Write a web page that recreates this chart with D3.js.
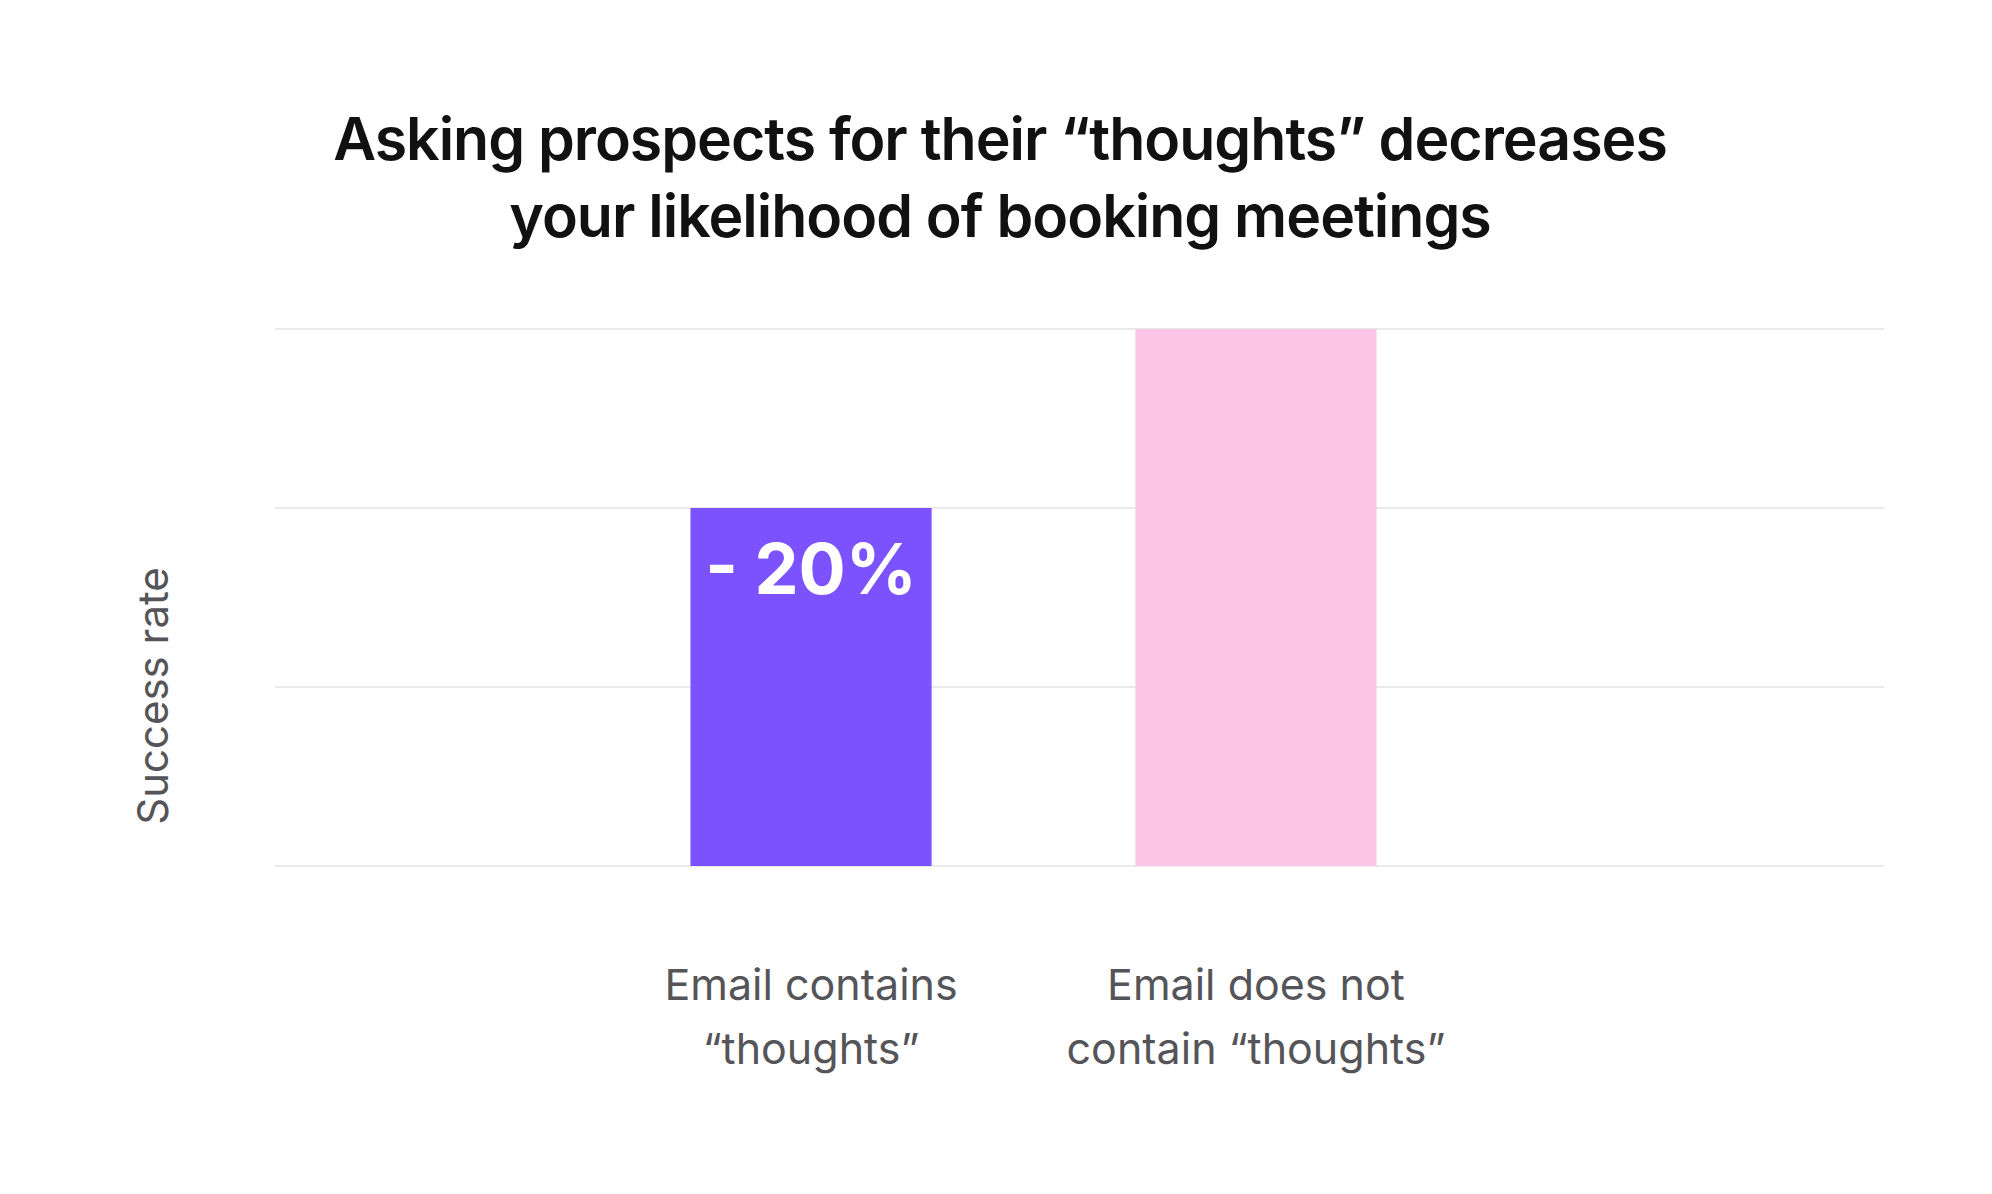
<!DOCTYPE html>
<html>
<head>
<meta charset="utf-8">
<script src="https://cdn.jsdelivr.net/npm/d3@7"></script>
<style>
  body { margin: 0; background: #fff; }
  text { font-family: Inter, "Liberation Sans", sans-serif; }
</style>
</head>
<body>
<svg id="chart" width="1992" height="1194"></svg>
<script>
// data (relative units, grid every 1)
var categories = [["Email contains", "\u201cthoughts\u201d"], ["Email does not", "contain \u201cthoughts\u201d"]];
var values = [2, 3];
var colors = ["#7b52fd", "#fdc6e6"];
var gridTicks = [0, 1, 2, 3];
var barLabel = "- 20%";

var svg = d3.select("svg#chart");

var y = d3.scaleLinear().domain([0, 3]).range([866, 329]);
var x = d3.scaleBand()
    .domain(d3.range(categories.length))
    .range([468, 1599])
    .paddingInner(0.458)
    .paddingOuter(0.5);

// gridlines
svg.append("g")
    .selectAll("line")
    .data(gridTicks)
    .enter()
    .append("line")
    .attr("x1", 275).attr("x2", 1884)
    .attr("y1", d => y(d)).attr("y2", d => y(d))
    .attr("stroke", "#e3e3e6")
    .attr("stroke-width", 1.5);

// bars
svg.append("g")
    .selectAll("rect")
    .data(values)
    .enter()
    .append("rect")
    .attr("x", (d, i) => x(i))
    .attr("y", d => y(d))
    .attr("width", x.bandwidth())
    .attr("height", d => y(0) - y(d))
    .attr("fill", (d, i) => colors[i]);

svg.append("text")
    .attr("x", x(0) + x.bandwidth() / 2)
    .attr("y", y(values[0]) + 86)
    .attr("text-anchor", "middle")
    .attr("font-size", "70px")
    .attr("font-weight", 700)
    .attr("fill", "#fff")
    .text(barLabel);

// category labels
categories.forEach(function (lines, i) {
    var t = svg.append("text")
        .attr("text-anchor", "middle")
        .attr("font-size", "43px")
        .attr("fill", "#555559");
    lines.forEach(function (l, j) {
        t.append("tspan")
            .attr("x", x(i) + x.bandwidth() / 2)
            .attr("y", 1000 + j * 64)
            .text(l);
    });
});

// y label
svg.append("text")
    .attr("transform", "translate(168,696) rotate(-90)")
    .attr("text-anchor", "middle")
    .attr("font-size", "42px")
    .attr("fill", "#555559")
    .text("Success rate");

// title
var title = svg.append("text")
    .attr("text-anchor", "middle")
    .attr("font-size", "59px")
    .attr("font-weight", 600)
    .attr("letter-spacing", "-1px")
    .attr("fill", "#111");
["Asking prospects for their \u201cthoughts\u201d decreases", "your likelihood of booking meetings"]
    .forEach(function (l, j) {
        title.append("tspan").attr("x", 1000).attr("y", 160 + j * 77).text(l);
    });
</script>
</body>
</html>
